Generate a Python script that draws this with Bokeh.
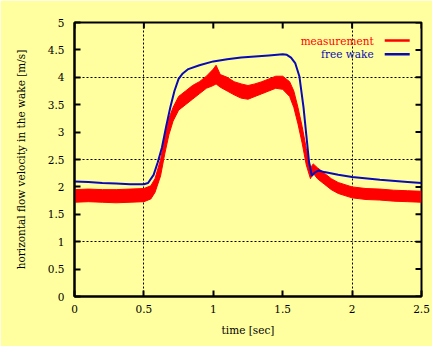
from bokeh.plotting import figure
from bokeh.models import Range1d, FixedTicker, LinearAxis, CustomJSTickFormatter, Grid
from bokeh.core.properties import value
from bokeh.embed import file_html
from bokeh.resources import INLINE

# ---- data ----
t_meas = [0.00, 0.10, 0.20, 0.30, 0.40, 0.50, 0.55, 0.58, 0.62, 0.65, 0.68, 0.71,
          0.75, 0.80, 0.85, 0.90, 0.95, 1.00, 1.02, 1.05, 1.10, 1.15, 1.20, 1.25,
          1.30, 1.35, 1.40, 1.45, 1.50, 1.55, 1.58, 1.61, 1.64, 1.67, 1.70, 1.72,
          1.75, 1.80, 1.85, 1.90, 2.00, 2.10, 2.20, 2.30, 2.40, 2.50]
meas_lo = [1.72, 1.73, 1.72, 1.71, 1.72, 1.73, 1.78, 1.90, 2.20, 2.60, 2.95, 3.20,
           3.40, 3.50, 3.60, 3.70, 3.80, 3.85, 3.88, 3.82, 3.75, 3.68, 3.62, 3.60,
           3.65, 3.70, 3.75, 3.80, 3.78, 3.65, 3.45, 3.15, 2.80, 2.40, 2.15, 2.25,
           2.15, 2.05, 1.95, 1.88, 1.80, 1.77, 1.76, 1.74, 1.73, 1.72]
meas_hi = [1.95, 1.96, 1.95, 1.95, 1.96, 1.97, 2.02, 2.15, 2.50, 2.90, 3.25, 3.45,
           3.65, 3.75, 3.85, 3.92, 4.02, 4.15, 4.22, 4.05, 4.00, 3.92, 3.88, 3.85,
           3.88, 3.92, 3.97, 4.02, 4.02, 3.92, 3.75, 3.45, 3.10, 2.70, 2.35, 2.42,
           2.35, 2.25, 2.15, 2.08, 2.00, 1.97, 1.96, 1.94, 1.93, 1.92]

t_wake = [0.00, 0.10, 0.20, 0.30, 0.40, 0.50, 0.53, 0.57, 0.60, 0.63, 0.66, 0.69,
          0.72, 0.75, 0.78, 0.82, 0.90, 1.00, 1.10, 1.20, 1.30, 1.40, 1.50, 1.53,
          1.56, 1.59, 1.62, 1.65, 1.67, 1.69, 1.71, 1.73, 1.76, 1.80, 1.90, 2.00,
          2.20, 2.40, 2.50]
v_wake = [2.10, 2.09, 2.07, 2.06, 2.05, 2.05, 2.07, 2.22, 2.45, 2.72, 3.10, 3.45,
          3.75, 3.97, 4.07, 4.15, 4.22, 4.29, 4.33, 4.36, 4.38, 4.40, 4.42, 4.41,
          4.36, 4.26, 4.02, 3.45, 2.95, 2.45, 2.20, 2.26, 2.30, 2.27, 2.22, 2.18,
          2.13, 2.09, 2.07]

x_ticks = [0, 0.5, 1, 1.5, 2, 2.5]
y_ticks = [0, 0.5, 1, 1.5, 2, 2.5, 3, 3.5, 4, 4.5, 5]
x_grid = [0.5, 2]
y_grid = [1, 2.5, 4]
series_names = ["measurement", "free wake"]

# ---- styles ----
BG = "#ffff9f"
RED = "#ff0000"
BLUE = "#0a0ab4"
FONT = "DejaVu Serif"
FS = "10.5px"
X0, X1 = 0, 2.5
Y0, Y1 = 0, 5
TICK_DY = 0.11    # 6 px in y data units
TICK_DX = 0.043   # 6 px in x data units

p = figure(width=432, height=346, output_backend="svg", toolbar_location=None,
           x_range=Range1d(X0, X1), y_range=Range1d(Y0, Y1),
           x_axis_type=None, y_axis_type=None,
           min_border_left=74, min_border_right=11, min_border_top=22,
           min_border_bottom=50)
p.background_fill_color = BG
p.border_fill_color = BG
p.outline_line_color = "black"
p.outline_line_width = 2

fmt = CustomJSTickFormatter(code="return tick.toString();")


def make_axis(ticks, label):
    ax = LinearAxis(ticker=FixedTicker(ticks=ticks), formatter=fmt)
    ax.major_tick_in = 6
    ax.major_tick_out = 0
    ax.major_tick_line_width = 2
    ax.minor_tick_line_color = None
    ax.axis_line_width = 2
    ax.major_label_text_font = FONT
    ax.major_label_text_color = "black"
    ax.major_label_text_font_size = FS
    ax.axis_label = label
    ax.axis_label_text_font = FONT
    ax.axis_label_text_font_size = FS
    ax.axis_label_text_font_style = "normal"
    ax.axis_label_text_color = "black"
    return ax


xb = make_axis(x_ticks, "time [sec]")
xb.major_label_standoff = 8
xb.axis_label_standoff = 8
p.add_layout(xb, "below")
yl = make_axis(y_ticks, "horizontal flow velocity in the wake [m/s]")
yl.major_label_standoff = 10
yl.axis_label_standoff = 18
p.add_layout(yl, "left")

# mirrored tick marks on top and right frame edges
p.segment(x0=x_ticks, y0=[Y1] * len(x_ticks), x1=x_ticks,
          y1=[Y1 - TICK_DY] * len(x_ticks), line_color="black", line_width=2)
p.segment(x0=[X1] * len(y_ticks), y0=y_ticks, x1=[X1 - TICK_DX] * len(y_ticks),
          y1=y_ticks, line_color="black", line_width=2)

p.add_layout(Grid(dimension=0, ticker=FixedTicker(ticks=x_grid),
                  grid_line_color="black", grid_line_dash="2 2", grid_line_width=1))
p.add_layout(Grid(dimension=1, ticker=FixedTicker(ticks=y_grid),
                  grid_line_color="black", grid_line_dash="2 2", grid_line_width=1))

p.varea(x=t_meas, y1=meas_lo, y2=meas_hi, fill_color=RED)
p.line(t_meas, meas_lo, line_color=RED, line_width=1)
p.line(t_meas, meas_hi, line_color=RED, line_width=1)

# free wake
p.line(t_wake, v_wake, line_color=BLUE, line_width=2)

# legend (text left, sample line right)
LEG_TX = 2.155
LEG_X0, LEG_X1 = 2.235, 2.415
LEG_Y = [4.67, 4.42]
LEG_C = [RED, BLUE]
p.text(x=[LEG_TX, LEG_TX], y=LEG_Y, text=series_names,
       text_color=LEG_C, text_font=value(FONT), text_font_size=value(FS),
       text_align="right", text_baseline="middle")
p.segment(x0=[LEG_X0, LEG_X0], y0=LEG_Y, x1=[LEG_X1, LEG_X1], y1=LEG_Y,
          line_color=LEG_C, line_width=2.5)

open("out.html", "w").write(file_html(p, INLINE))
